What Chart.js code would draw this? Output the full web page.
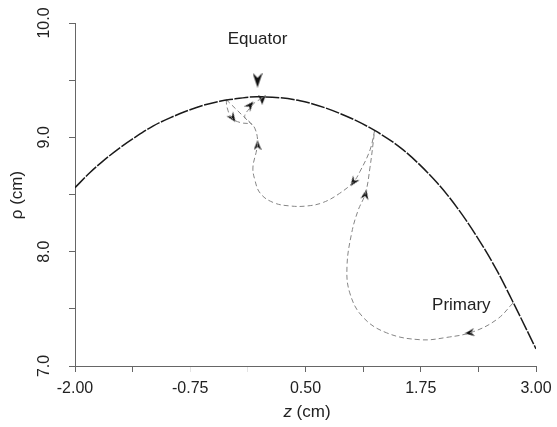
<!DOCTYPE html>
<html>
<head>
<meta charset="utf-8">
<script src="https://cdn.jsdelivr.net/npm/chart.js@4"></script>
<style>
  html, body { margin: 0; padding: 0; background: #fff; }
  #wrap { width: 557px; height: 427px; }
</style>
</head>
<body>
<div id="wrap"><canvas id="c" width="557" height="427"></canvas></div>
<script>
// tick marks and labels
const xTicks = [-2, -1.375, -0.75, -0.125, 0.5, 1.125, 1.75, 2.375, 3];
const xLabels = ["-2.00", "", "-0.75", "", "0.50", "", "1.75", "", "3.00"];
const yTicks = [7, 7.5, 8, 8.5, 9, 9.5, 10];
const yLabels = ["7.0", "", "8.0", "", "9.0", "", "10.0"];

// boundary surface
const boundaryZ = [-2.00, -1.84, -1.70, -1.51, -1.33, -1.15, -0.97, -0.79, -0.61, -0.43, -0.32, -0.03, 0.44, 0.87, 1.25, 1.56, 1.93, 2.14, 2.36, 2.58, 2.75, 3.00];
const boundaryRho = [8.56, 8.69, 8.79, 8.91, 9.01, 9.10, 9.17, 9.23, 9.28, 9.315, 9.33, 9.355, 9.32, 9.21, 9.06, 8.89, 8.60, 8.39, 8.13, 7.83, 7.56, 7.15];

// primary trajectory
const primaryZ = [2.75, 2.58, 2.32, 2.03, 1.74, 1.38, 1.12, 0.98, 0.95, 1.00, 1.07, 1.15, 1.20, 1.25];
const primaryRho = [7.55, 7.41, 7.30, 7.25, 7.23, 7.29, 7.43, 7.64, 7.87, 8.16, 8.36, 8.51, 8.74, 9.06];

// second bounce
const secondZ = [1.25, 1.20, 1.09, 1.02, 0.87, 0.69, 0.52, 0.33, 0.15, 0.01, -0.05, -0.07, -0.03, -0.02, -0.05, -0.10, -0.16, -0.10, -0.04, 0.03];
const secondRho = [9.06, 8.89, 8.70, 8.61, 8.51, 8.43, 8.40, 8.40, 8.43, 8.51, 8.63, 8.74, 8.89, 8.98, 9.08, 9.13, 9.18, 9.26, 9.31, 9.34];

// small loop near the equator
const loopZ = [-0.36, -0.35, -0.30, -0.21, -0.10];
const loopRho = [9.33, 9.26, 9.17, 9.13, 9.12];
const chordZ = [-0.36, -0.08];
const chordRho = [9.33, 9.11];

// direction arrows (angle in degrees, 0 = right, 90 = down)
const arrowZ = [0.03, -0.10, -0.29, -0.02, 1.02, 1.15, 2.28];
const arrowRho = [9.33, 9.28, 9.17, 8.93, 8.61, 8.50, 7.29];
const arrowAngle = [90, -50, 55, -90, 125, -78, 172];

// equator marker
const markerZ = [-0.02];
const markerRho = [9.50];

// text labels
const noteText = ["Equator", "Primary"];
const noteZ = [-0.02, 2.19];
const noteRho = [9.86, 7.53];

const FONT = '"Liberation Sans", Arial, sans-serif';
const pts = (xs, ys) => xs.map((x, i) => ({ x, y: ys[i] }));

function makeArrow(len, wid) {
  const c = document.createElement("canvas");
  c.width = len;
  c.height = wid;
  const g = c.getContext("2d");
  g.fillStyle = "#111";
  g.beginPath();
  g.moveTo(len, wid / 2);
  g.lineTo(0, 0);
  g.lineTo(len * 0.35, wid / 2);
  g.lineTo(0, wid);
  g.closePath();
  g.fill();
  return c;
}
const smallArrow = makeArrow(10, 8);
const bigArrow = makeArrow(15, 10);

const trajStyle = {
  showLine: true,
  borderColor: "#858585",
  borderWidth: 1,
  borderDash: [5, 3],
  pointRadius: 0,
  tension: 0.4,
};

const textPlugin = {
  id: "texts",
  afterDraw(chart) {
    const ctx = chart.ctx;
    const xs = chart.scales.x;
    const ys = chart.scales.y;
    ctx.save();
    ctx.fillStyle = "#222";
    ctx.font = "16px " + FONT;
    ctx.textAlign = "center";
    ctx.textBaseline = "middle";
    xTicks.forEach((v, i) => {
      if (xLabels[i]) ctx.fillText(xLabels[i], xs.getPixelForValue(v), 389);
    });
    yTicks.forEach((v, i) => {
      if (!yLabels[i]) return;
      ctx.save();
      ctx.translate(45, ys.getPixelForValue(v));
      ctx.rotate(-Math.PI / 2);
      ctx.fillText(yLabels[i], 0, 0);
      ctx.restore();
    });
    // axis titles
    ctx.font = "17px " + FONT;
    ctx.save();
    ctx.translate(17, 195);
    ctx.rotate(-Math.PI / 2);
    ctx.fillText("\u03c1 (cm)", 0, 0);
    ctx.restore();
    ctx.textAlign = "left";
    ctx.font = "italic 17px " + FONT;
    const zw = ctx.measureText("z ").width;
    ctx.font = "17px " + FONT;
    const cw = ctx.measureText("(cm)").width;
    const x0 = 307 - (zw + cw) / 2;
    ctx.font = "italic 17px " + FONT;
    ctx.fillText("z", x0, 412);
    ctx.font = "17px " + FONT;
    ctx.fillText("(cm)", x0 + zw, 412);
    // notes
    ctx.textAlign = "center";
    noteText.forEach((t, i) => {
      ctx.fillText(t, xs.getPixelForValue(noteZ[i]), ys.getPixelForValue(noteRho[i]));
    });
    ctx.restore();
  },
};

const axisGrid = (faint) => ({
  drawOnChartArea: false,
  drawTicks: true,
  tickLength: 6,
  tickColor: (c) => (faint.includes(c.index) ? "#e4e4e4" : "#666"),
});

new Chart(document.getElementById("c"), {
  type: "scatter",
  data: {
    datasets: [
      {
        data: pts(boundaryZ, boundaryRho),
        showLine: true,
        borderColor: "#1a1a1a",
        borderWidth: 1.5,
        borderDash: [14, 1.5],
        pointRadius: 0,
        cubicInterpolationMode: "monotone",
      },
      { data: pts(primaryZ, primaryRho), ...trajStyle },
      { data: pts(secondZ, secondRho), ...trajStyle },
      { data: pts(loopZ, loopRho), ...trajStyle },
      { data: pts(chordZ, chordRho), ...trajStyle, tension: 0 },
      {
        data: pts(arrowZ, arrowRho),
        pointStyle: smallArrow,
        pointRotation: arrowAngle,
        pointRadius: 5,
      },
      {
        data: pts(markerZ, markerRho),
        pointStyle: bigArrow,
        pointRotation: 90,
        pointRadius: 7,
      },
    ],
  },
  options: {
    responsive: false,
    animation: false,
    events: [],
    layout: { autoPadding: false, padding: { left: 0, top: 23, right: 21, bottom: 0 } },
    plugins: { legend: { display: false }, tooltip: { enabled: false } },
    scales: {
      x: {
        type: "linear",
        min: -2,
        max: 3,
        afterBuildTicks: (s) => { s.ticks = xTicks.map((v) => ({ value: v })); },
        afterFit: (s) => { s.height = 61; },
        ticks: { display: false },
        grid: axisGrid([2, 3]),
        border: { color: "#666", width: 1 },
      },
      y: {
        type: "linear",
        min: 7,
        max: 10,
        afterBuildTicks: (s) => { s.ticks = yTicks.map((v) => ({ value: v })); },
        afterFit: (s) => { s.width = 75; },
        ticks: { display: false },
        grid: axisGrid([]),
        border: { color: "#666", width: 1 },
      },
    },
  },
  plugins: [textPlugin],
});
</script>
</body>
</html>
